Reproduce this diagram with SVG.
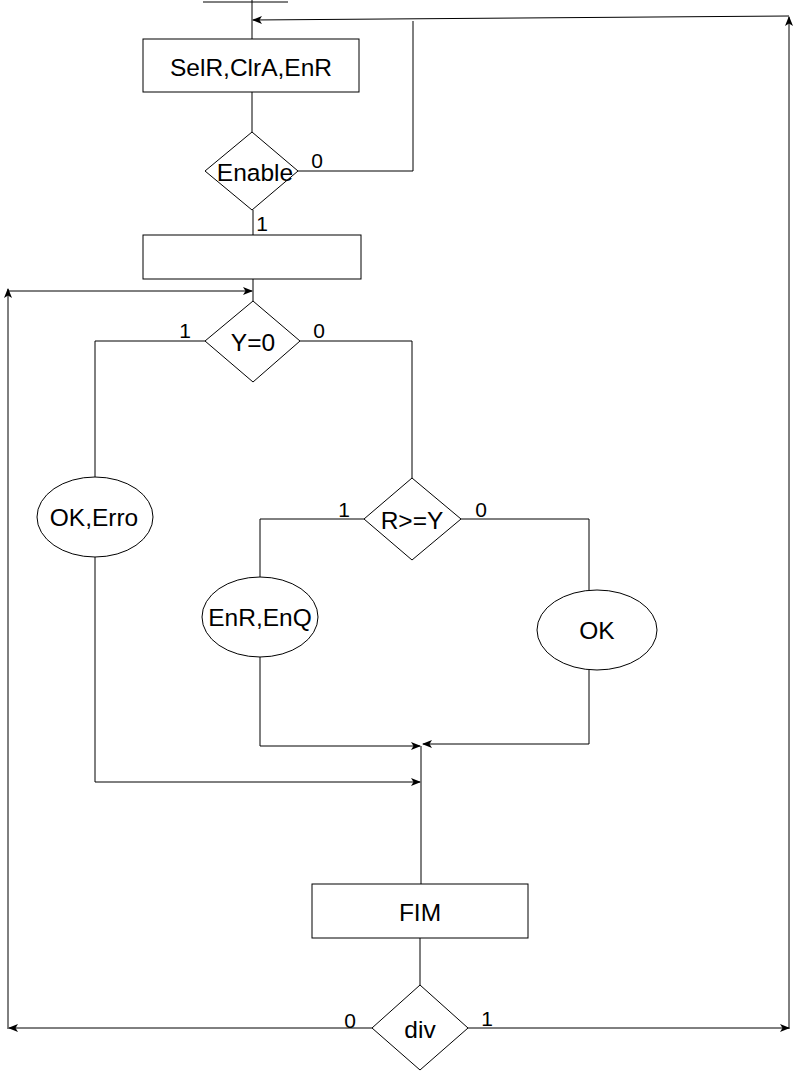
<svg xmlns="http://www.w3.org/2000/svg" width="802" height="1071" viewBox="0 0 802 1071">
  <style>
    .shape { fill: #ffffff; stroke: #000000; stroke-width: 1; }
    .line { fill: none; stroke: #000000; stroke-width: 1; }
    .label { font-family: "Liberation Sans", Arial, sans-serif; font-size: 24.5px; fill: #000000; text-anchor: middle; dominant-baseline: central; }
    .edge-label { font-family: "Liberation Sans", Arial, sans-serif; font-size: 21px; fill: #000000; text-anchor: middle; }
  </style>
  <defs>
    <marker id="arrow" viewBox="0 0 10 10" refX="9" refY="5" markerWidth="10" markerHeight="10" markerUnits="userSpaceOnUse" orient="auto">
      <path d="M0,1 L10,5 L0,9 L2.5,5 Z" fill="#000000"/>
    </marker>
  </defs>
  <rect width="802" height="1071" fill="#ffffff"/>

  <!-- connectors -->
  <g id="connectors">
    <!-- entry bar -->
    <line class="line" x1="203" y1="2" x2="288" y2="2"/>
    <line class="line" x1="252" y1="0" x2="252" y2="39"/>
    <!-- return from the right column -->
    <line class="line" x1="789" y1="16" x2="253" y2="20" marker-end="url(#arrow)"/>
    <!-- Enable = 0 loop -->
    <polyline class="line" points="298,171 413,171 413,21"/>
    <line class="line" x1="252" y1="92" x2="252" y2="132"/>
    <line class="line" x1="253" y1="210" x2="253" y2="235"/>
    <line class="line" x1="253" y1="279" x2="253" y2="301"/>
    <!-- return from the left column -->
    <line class="line" x1="8" y1="291" x2="252" y2="291" marker-end="url(#arrow)"/>
    <!-- Y=0 branches -->
    <polyline class="line" points="205,341 95,341 95,478"/>
    <polyline class="line" points="300,341 412,341 412,478"/>
    <!-- R>=Y branches -->
    <polyline class="line" points="364,519 260,519 260,577"/>
    <polyline class="line" points="461,519 589,519 589,590"/>
    <!-- merge -->
    <polyline class="line" points="260,657 260,746 420,746" marker-end="url(#arrow)"/>
    <polyline class="line" points="589,670 589,744 423,744" marker-end="url(#arrow)"/>
    <polyline class="line" points="95,557 95,782 420,782" marker-end="url(#arrow)"/>
    <line class="line" x1="421" y1="746" x2="421" y2="884"/>
    <line class="line" x1="420" y1="938" x2="420" y2="985"/>
    <!-- div outcomes -->
    <line class="line" x1="372" y1="1028" x2="9" y2="1028" marker-end="url(#arrow)"/>
    <line class="line" x1="468" y1="1028" x2="789" y2="1028" marker-end="url(#arrow)"/>
    <line class="line" x1="8" y1="1029" x2="8" y2="289" marker-end="url(#arrow)"/>
    <line class="line" x1="789" y1="1029" x2="789" y2="17" marker-end="url(#arrow)"/>
    <!-- branch labels -->
    <text class="edge-label" x="317" y="168">0</text>
    <text class="edge-label" x="262" y="231">1</text>
    <text class="edge-label" x="185" y="338">1</text>
    <text class="edge-label" x="319" y="338">0</text>
    <text class="edge-label" x="344" y="517">1</text>
    <text class="edge-label" x="481" y="517">0</text>
    <text class="edge-label" x="350" y="1028">0</text>
    <text class="edge-label" x="487" y="1026">1</text>
  </g>

  <g id="node-selr">
    <rect class="shape" x="143" y="39" width="216" height="53"/>
    <text class="label" x="251" y="67">SelR,ClrA,EnR</text>
  </g>

  <g id="node-enable">
    <polygon class="shape" points="252,132 298,171 252,210 205,171"/>
    <text class="label" x="255" y="172">Enable</text>
  </g>

  <g id="node-empty">
    <rect class="shape" x="143" y="235" width="218" height="44"/>
  </g>

  <g id="node-y0">
    <polygon class="shape" points="253,301 300,341 253,382 205,341"/>
    <text class="label" x="253" y="342">Y=0</text>
  </g>

  <g id="node-okerro">
    <ellipse class="shape" cx="95" cy="517" rx="58" ry="40"/>
    <text class="label" x="94" y="517">OK,Erro</text>
  </g>

  <g id="node-rgey">
    <polygon class="shape" points="412,478 461,519 412,560 364,519"/>
    <text class="label" x="412" y="520">R&gt;=Y</text>
  </g>

  <g id="node-enrenq">
    <ellipse class="shape" cx="260" cy="617" rx="58" ry="40"/>
    <text class="label" x="260" y="617">EnR,EnQ</text>
  </g>

  <g id="node-ok">
    <ellipse class="shape" cx="597" cy="630" rx="60" ry="40"/>
    <text class="label" x="597" y="630">OK</text>
  </g>

  <g id="node-fim">
    <rect class="shape" x="312" y="884" width="216" height="54"/>
    <text class="label" x="420" y="912">FIM</text>
  </g>

  <g id="node-div">
    <polygon class="shape" points="420,985 468,1028 420,1070 372,1028"/>
    <text class="label" x="420" y="1029">div</text>
  </g>
</svg>
